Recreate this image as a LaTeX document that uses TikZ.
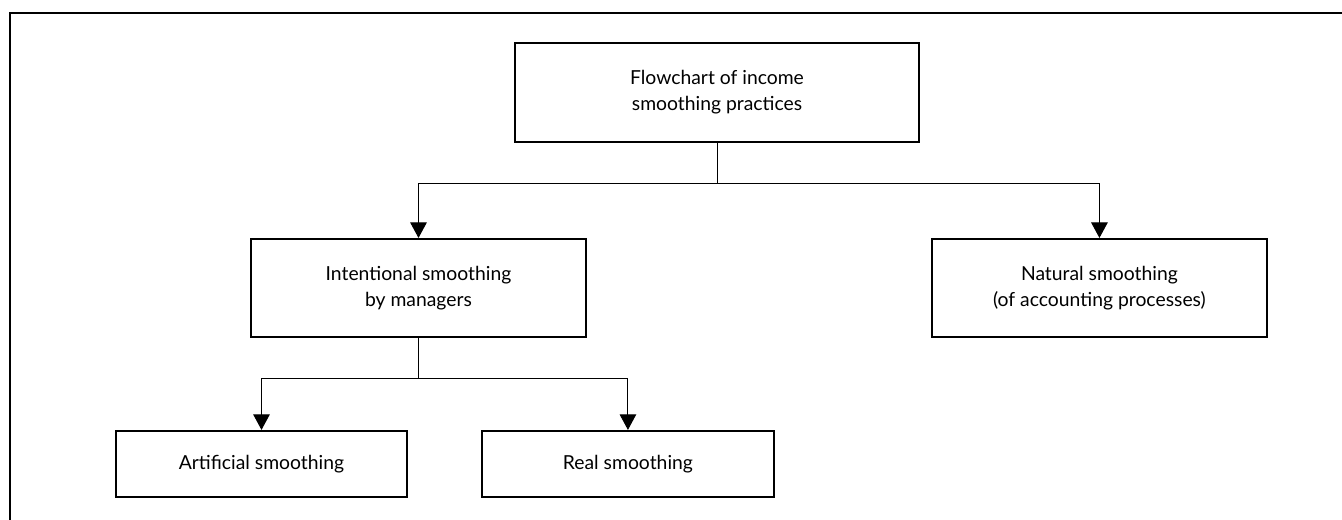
\documentclass[tikz,border=0pt]{standalone}
\usepackage{fontspec}
\setmainfont{Lato}
\usepackage{tikz}
\usetikzlibrary{arrows.meta,positioning}

\begin{document}
\begin{tikzpicture}[
    box/.style={rectangle, draw, line width=1.1pt, align=center, inner sep=2pt,
        font=\fontsize{11}{14.8}\selectfont},
    bigbox/.style={box, minimum width=6.7cm, minimum height=1.96cm},
    smallbox/.style={box, minimum width=5.83cm, minimum height=1.32cm},
    line/.style={line width=0.55pt},
    arrow/.style={line, -{Triangle[width=0.33cm, length=0.31cm]}},
    frame/.style={line width=0.8pt}
]
    % size of the page
    \useasboundingbox (0,0) rectangle (26.84,-10.4);

    % open frame round the chart
    \draw[frame] (26.84,-0.26) -- (0.2,-0.26) -- (0.2,-10.4);

    % Top
    \node[box, minimum width=8.08cm, minimum height=1.98cm] (flowchart) at (14.34,-1.85)
        {Flowchart of income\\smoothing practices};

    % Second row
    \node[bigbox, below=1.9cm of flowchart, xshift=-5.97cm] (intentional)
        {Intentional smoothing\\by managers};
    \node[bigbox, right=6.88cm of intentional] (natural)
        {Natural smoothing\\(of accounting processes)};

    % Third row
    \node[smallbox, below=1.84cm of intentional, xshift=-3.14cm] (artificial)
        {Artificial smoothing};
    \node[smallbox, right=1.46cm of artificial] (real) {Real smoothing};

    % Arrows
    \draw[line] (flowchart.south) -- ++(0,-0.82) coordinate (split1);
    \draw[arrow] (split1) -| (intentional.north);
    \draw[arrow] (split1) -| (natural.north);

    \draw[line] (intentional.south) -- ++(0,-0.82) coordinate (split2);
    \draw[arrow] (split2) -| (artificial.north);
    \draw[arrow] (split2) -| (real.north);

\end{tikzpicture}
\end{document}
